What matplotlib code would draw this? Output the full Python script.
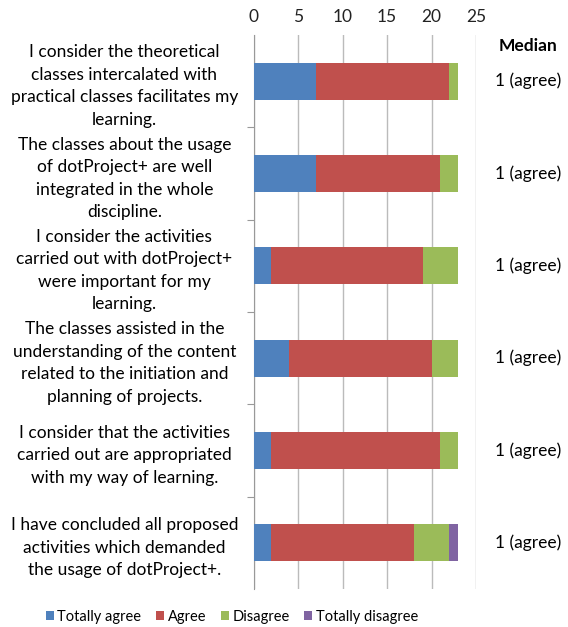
import matplotlib.pyplot as plt
import numpy as np

questions = [
    "I consider the theoretical\nclasses intercalated with\npractical classes facilitates my\nlearning.",
    "The classes about the usage\nof dotProject+ are well\nintegrated in the whole\ndiscipline.",
    "I consider the activities\ncarried out with dotProject+\nwere important for my\nlearning.",
    "The classes assisted in the\nunderstanding of the content\nrelated to the initiation and\nplanning of projects.",
    "I consider that the activities\ncarried out are appropriated\nwith my way of learning.",
    "I have concluded all proposed\nactivities which demanded\nthe usage of dotProject+.",
]
totally_agree = [7, 7, 2, 4, 2, 2]
agree = [15, 14, 17, 16, 19, 16]
disagree = [1, 2, 4, 3, 2, 4]
totally_disagree = [0, 0, 0, 0, 0, 1]
medians = ["1 (agree)"] * 6

series = [
    ("Totally agree", totally_agree, "#4F81BD"),
    ("Agree", agree, "#C0504D"),
    ("Disagree", disagree, "#9BBB59"),
    ("Totally disagree", totally_disagree, "#8064A2"),
]

plt.rcParams['font.family'] = ['Lato', 'DejaVu Sans']

fig = plt.figure(figsize=(5.68, 6.27), dpi=100)
ax = fig.add_axes([253.5 / 568, 1 - 589 / 627, (476 - 253.5) / 568, (589 - 35) / 627])

y = np.arange(len(questions))
left = np.zeros(len(questions))
for name, vals, col in series:
    ax.barh(y, vals, left=left, height=0.4, color=col, label=name, zorder=3)
    left += np.array(vals)

ax.set_xlim(0, 25)
ax.set_ylim(len(questions) - 0.5, -0.5)
ax.set_xticks(range(0, 26, 5))
ax.xaxis.tick_top()
ax.tick_params(axis='x', length=0, pad=7, labelsize=12.5, colors='#222222')
ax.grid(axis='x', color='#BBBBBB', linewidth=1, zorder=0)

ax.set_yticks(np.arange(0.5, len(questions) - 0.5, 1))
ax.set_yticklabels([])
ax.tick_params(axis='y', which='major', length=5, color='#999999', direction='out')
ax.set_yticks(y, minor=True)
ax.set_yticklabels(questions, minor=True, ha='center', multialignment='center',
                   fontsize=12.5, linespacing=1.5)
ax.tick_params(axis='y', which='minor', length=0, pad=93)

for s in ['top', 'right', 'bottom']:
    ax.spines[s].set_visible(False)
ax.spines['left'].set_color('#999999')

fig.text(528 / 568, 1 - 46 / 627, "Median", ha='center', va='center',
         fontsize=12.5, fontweight='bold')
for i, m in enumerate(medians):
    ax.text(528 / 568, i, m, transform=ax.get_yaxis_transform().__class__(fig.transFigure, ax.transData),
            ha='center', va='center', fontsize=12.5)

fig.legend(loc='center', bbox_to_anchor=(232 / 568, 1 - 617 / 627), ncol=4, frameon=False,
           fontsize=10.5, handlelength=0.55, handleheight=0.55, handletextpad=0.25, columnspacing=1.0)

fig.savefig("out.png", dpi=100)
